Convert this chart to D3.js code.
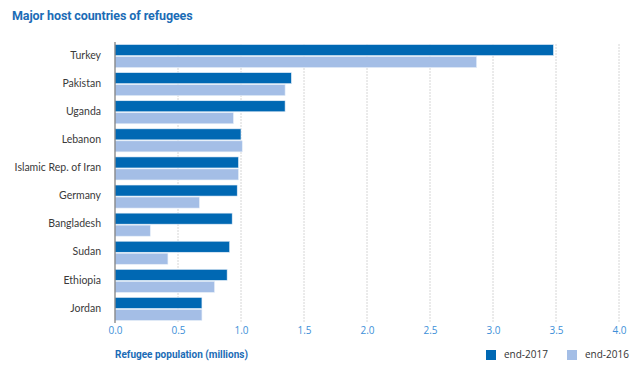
<!DOCTYPE html>
<html>
<head>
<meta charset="utf-8">
<script src="https://cdn.jsdelivr.net/npm/d3@7"></script>
<style>
  body { margin: 0; background: #fff; }
  svg { font-family: "Open Sans", "Liberation Sans", sans-serif; }
  .country { font-size: 10.5px; fill: #3a3a3a; font-family: Lato, "Open Sans", sans-serif; }
  .tick-label { font-size: 10px; fill: #3d8fd8; }
  .grid line { stroke: #d6d6d6; stroke-dasharray: 2,1; }
</style>
</head>
<body>
<div id="chart"></div>
<script>
// données
const countries = ["Turkey", "Pakistan", "Uganda", "Lebanon", "Islamic Rep. of Iran",
                   "Germany", "Bangladesh", "Sudan", "Ethiopia", "Jordan"];
const end2017 = [3.48, 1.40, 1.35, 1.00, 0.98, 0.97, 0.93, 0.91, 0.89, 0.69];
const end2016 = [2.87, 1.35, 0.94, 1.01, 0.98, 0.67, 0.28, 0.42, 0.79, 0.69];
const xTicks = [0, 0.5, 1.0, 1.5, 2.0, 2.5, 3.0, 3.5, 4.0];
const seriesNames = ["end-2017", "end-2016"];
const colors = ["#0068b3", "#a4bee6"];

const width = 640, height = 372;
const svg = d3.select("#chart").append("svg")
    .attr("width", width)
    .attr("height", height);

const x = d3.scaleLinear().domain([0, 4]).range([115, 619]);
const y = d3.scaleBand().domain(countries).range([42, 323]).paddingInner(0.18).paddingOuter(0.09);
const ySub = d3.scaleBand().domain(seriesNames).range([0, y.bandwidth()]).paddingInner(0.08);

// titre
svg.append("text")
    .attr("x", 12).attr("y", 20)
    .attr("fill", "#1b6cb6")
    .style("font-size", "12.5px")
    .style("font-weight", "bold")
    .style("font-family", "Roboto, 'Open Sans', sans-serif")
    .style("letter-spacing", "-0.1px")
    .text("Major host countries of refugees");

// grille
svg.append("g").attr("class", "grid")
    .selectAll("line")
    .data(xTicks.slice(1))
    .enter().append("line")
    .attr("x1", d => x(d)).attr("x2", d => x(d))
    .attr("y1", 44).attr("y2", 322);

// barres
const groups = svg.selectAll("g.country-g")
    .data(countries)
    .enter().append("g")
    .attr("class", "country-g")
    .attr("transform", d => `translate(0,${y(d)})`);

[end2017, end2016].forEach((vals, s) => {
    groups.append("rect")
        .attr("x", x(0))
        .attr("y", ySub(seriesNames[s]))
        .attr("width", (d, i) => x(vals[i]) - x(0))
        .attr("height", ySub.bandwidth())
        .attr("fill", colors[s])
        .attr("stroke", "#e6eef8")
        .attr("stroke-width", 0.6);
});

// étiquettes des pays
groups.append("text")
    .attr("class", "country")
    .attr("x", 101)
    .attr("y", y.bandwidth() / 2)
    .attr("text-anchor", "end")
    .attr("dominant-baseline", "middle")
    .text(d => d);

// axe vertical
svg.append("line")
    .attr("x1", x(0)).attr("x2", x(0))
    .attr("y1", 42).attr("y2", 323)
    .attr("stroke", "#777").attr("stroke-width", 1.2);

// axe x
const xAxis = d3.axisBottom(x).tickValues(xTicks).tickFormat(d3.format(".1f")).tickSize(0);
const gx = svg.append("g").attr("transform", "translate(0,325)").call(xAxis);
gx.select(".domain").remove();
gx.selectAll("text")
    .attr("class", "tick-label")
    .attr("dy", "0.71em")
    .attr("y", 2)
    .style("font-family", "'Open Sans', sans-serif");

svg.append("text")
    .attr("x", 115).attr("y", 358)
    .attr("fill", "#1b6cb6")
    .style("font-size", "10px")
    .style("font-weight", "bold")
    .style("font-family", "Roboto, 'Open Sans', sans-serif")
    .text("Refugee population (millions)");

// légende
const legendX = [486, 567];
const legend = svg.selectAll("g.legend")
    .data(seriesNames)
    .enter().append("g")
    .attr("class", "legend")
    .attr("transform", (d, i) => `translate(${legendX[i]},350)`);
legend.append("rect")
    .attr("width", 10).attr("height", 10)
    .attr("fill", (d, i) => colors[i]);
legend.append("text")
    .attr("x", 18).attr("y", 5)
    .attr("dominant-baseline", "middle")
    .attr("fill", "#333")
    .style("font-size", "10px")
    .text(d => d);
</script>
</body>
</html>
